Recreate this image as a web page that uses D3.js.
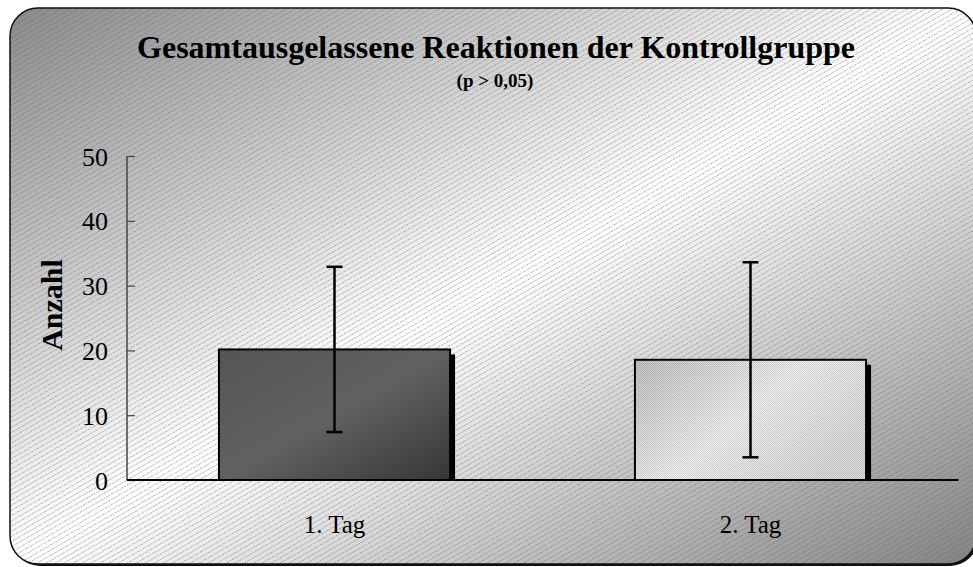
<!DOCTYPE html>
<html><head><meta charset="utf-8">
<script src="https://cdn.jsdelivr.net/npm/d3@7"></script>
<style>html,body{margin:0;padding:0;background:#fff;}svg{display:block;}</style>
</head><body>
<script>
const categories = ["1. Tag", "2. Tag"];
const means = [20.15, 18.55];
const errLow = [7.4, 3.5];
const errHigh = [32.9, 33.6];
const yTicks = [0, 10, 20, 30, 40, 50];
const title = "Gesamtausgelassene Reaktionen der Kontrollgruppe";
const subtitle = "(p > 0,05)";
const yLabel = "Anzahl";

const FONT = "'Liberation Serif', 'Times New Roman', serif";
const W = 973, H = 567;
const svg = d3.select("body").append("svg").attr("width", W).attr("height", H);
const defs = svg.append("defs");

const bg = defs.append("linearGradient").attr("id","bg").attr("x1",0).attr("y1",0).attr("x2",1).attr("y2",1);
bg.append("stop").attr("offset",0).attr("stop-color","#8a8a8a");
bg.append("stop").attr("offset",0.5).attr("stop-color","#ffffff");
bg.append("stop").attr("offset",1).attr("stop-color","#838383");

const stripes = defs.append("pattern").attr("id","stripes").attr("patternUnits","userSpaceOnUse")
  .attr("width",6).attr("height",4.5).attr("patternTransform","rotate(-30)");
stripes.append("line").attr("x1",0).attr("y1",2.25).attr("x2",6).attr("y2",2.25)
  .attr("stroke","#6a6a6a").attr("stroke-width",1).attr("stroke-opacity",0.5).attr("stroke-dasharray","1.5,1");

const g1 = defs.append("linearGradient").attr("id","bar1").attr("x1",0).attr("y1",0).attr("x2",1).attr("y2",1);
g1.append("stop").attr("offset",0).attr("stop-color","#5a5a5a");
g1.append("stop").attr("offset",0.5).attr("stop-color","#676767");
g1.append("stop").attr("offset",1).attr("stop-color","#3a3a3a");
const g2 = defs.append("linearGradient").attr("id","bar2").attr("x1",0).attr("y1",0).attr("x2",1).attr("y2",0.6);
g2.append("stop").attr("offset",0).attr("stop-color","#c4c4c4");
g2.append("stop").attr("offset",0.55).attr("stop-color","#f0f0f0");
g2.append("stop").attr("offset",1).attr("stop-color","#dcdcdc");

const fine = defs.append("pattern").attr("id","fine").attr("patternUnits","userSpaceOnUse").attr("width",2).attr("height",2);
fine.append("rect").attr("x",0).attr("y",0).attr("width",1).attr("height",1).attr("fill","#000").attr("fill-opacity",0.12);
fine.append("rect").attr("x",1).attr("y",1).attr("width",1).attr("height",1).attr("fill","#000").attr("fill-opacity",0.12);

// frame
const fx = 10, fy = 8, fw = 966, fh = 556, r = 28;
svg.append("rect").attr("x",fx+2).attr("y",fy+2).attr("width",fw).attr("height",fh).attr("rx",r)
  .attr("fill","#111");
svg.append("rect").attr("x",fx).attr("y",fy).attr("width",fw).attr("height",fh).attr("rx",r)
  .attr("fill","url(#bg)");
svg.append("rect").attr("x",fx).attr("y",fy).attr("width",fw).attr("height",fh).attr("rx",r)
  .attr("fill","url(#stripes)").attr("stroke","#111").attr("stroke-width",1.5);

const y = d3.scaleLinear().domain([0,50]).range([480,156]);
const x = d3.scaleBand().domain(categories).range([126.5, 958.5]);
const bw = x.bandwidth()/1.8;
const cx = d => x(d) + x.bandwidth()/2;

const data = categories.map((c,i)=>({c, m:means[i], lo:errLow[i], hi:errHigh[i], i}));

// shadows
svg.selectAll(".shadow").data(data).enter().append("rect")
  .attr("x", d=>cx(d.c)-bw/2+5).attr("y", d=>y(d.m)+5)
  .attr("width", bw).attr("height", d=>y(0)-y(d.m)-5).attr("fill","#000");
svg.selectAll(".bar").data(data).enter().append("rect")
  .attr("x", d=>cx(d.c)-bw/2).attr("y", d=>y(d.m))
  .attr("width", bw).attr("height", d=>y(0)-y(d.m))
  .attr("fill", d=>d.i===0?"url(#bar1)":"url(#bar2)")
  .attr("stroke","#000").attr("stroke-width",2);
svg.selectAll(".barTex").data(data).enter().append("rect")
  .attr("x", d=>cx(d.c)-bw/2+1).attr("y", d=>y(d.m)+1)
  .attr("width", bw-2).attr("height", d=>y(0)-y(d.m)-2)
  .attr("fill","url(#fine)");

// axes
const yAxis = d3.axisLeft(y).tickValues(yTicks).tickSize(-8).tickPadding(0).tickFormat(d3.format("d"));
const ya = svg.append("g").attr("transform","translate(127,0)").call(yAxis);
ya.attr("font-family", null).attr("font-size", null);
ya.select(".domain").attr("stroke","#444").attr("stroke-width",1.5).attr("d","M0,"+y(50)+"V"+y(0));
ya.selectAll(".tick line").attr("stroke","#444").attr("stroke-width",1.2);
ya.selectAll(".tick text").attr("x",-19).attr("dy","0.35em")
  .style("font-family",FONT).style("font-size","26px").attr("fill","#000");

const xAxis = d3.axisBottom(x).tickSize(0).tickPadding(0);
const xa = svg.append("g").attr("transform","translate(0,480)").call(xAxis);
xa.attr("font-family", null).attr("font-size", null);
xa.select(".domain").attr("stroke","#000").attr("stroke-width",2).attr("d","M127,0H958.5");
xa.selectAll(".tick text").attr("y",53).attr("dy",0)
  .style("font-family",FONT).style("font-size","25px").attr("fill","#000");

// error bars
const eb = svg.selectAll(".eb").data(data).enter().append("g");
eb.append("line").attr("x1",d=>cx(d.c)).attr("x2",d=>cx(d.c)).attr("y1",d=>y(d.hi)).attr("y2",d=>y(d.lo))
  .attr("stroke","#000").attr("stroke-width",2.5);
eb.append("line").attr("x1",d=>cx(d.c)-8).attr("x2",d=>cx(d.c)+8).attr("y1",d=>y(d.hi)).attr("y2",d=>y(d.hi))
  .attr("stroke","#000").attr("stroke-width",2.5);
eb.append("line").attr("x1",d=>cx(d.c)-8).attr("x2",d=>cx(d.c)+8).attr("y1",d=>y(d.lo)).attr("y2",d=>y(d.lo))
  .attr("stroke","#000").attr("stroke-width",2.5);

// titles
svg.append("text").attr("x",496).attr("y",58).attr("text-anchor","middle")
  .style("font-family",FONT).style("font-weight","bold").style("font-size","32px")
  .text(title);
svg.append("text").attr("x",495).attr("y",87).attr("text-anchor","middle")
  .style("font-family",FONT).style("font-weight","bold").style("font-size","19px")
  .text(subtitle);
svg.append("text").attr("transform","translate(62,305) rotate(-90)").attr("text-anchor","middle")
  .style("font-family",FONT).style("font-weight","bold").style("font-size","30px")
  .text(yLabel);
</script>
</body></html>
